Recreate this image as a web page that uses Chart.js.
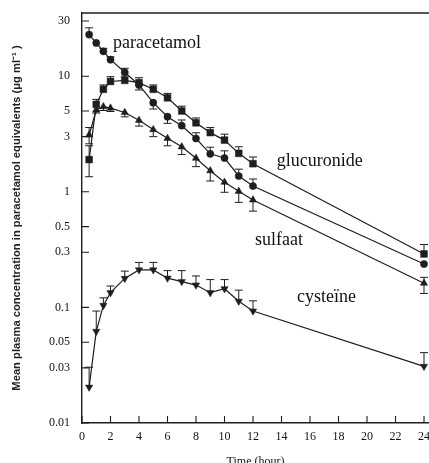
<!DOCTYPE html>
<html>
<head>
<meta charset="utf-8">
<script src="https://cdn.jsdelivr.net/npm/chart.js@4.4.0/dist/chart.umd.min.js"></script>
<style>
html, body { margin: 0; padding: 0; background: #fff; overflow: hidden; }
</style>
</head>
<body>
<canvas id="myCanvas" width="429" height="469"></canvas>
<script>
// time points (hour)
const hours = [0.5, 1, 1.5, 2, 3, 4, 5, 6, 7, 8, 9, 10, 11, 12, 24];

// mean plasma concentrations (ug/ml paracetamol equivalents)
const paracetamol = [22.9, 19.4, 16.4, 13.9, 10.8, 8.4, 5.9, 4.46, 3.73, 2.89, 2.13, 1.96, 1.37, 1.12, 0.237];
const glucuronide = [1.9, 5.7, 7.7, 9.0, 9.2, 8.8, 7.7, 6.5, 5.0, 3.95, 3.25, 2.8, 2.15, 1.75, 0.29];
const sulfaat     = [3.1, 5.1, 5.45, 5.3, 4.85, 4.15, 3.45, 2.9, 2.45, 1.95, 1.52, 1.21, 1.01, 0.85, 0.162];
const cysteine    = [0.0204, 0.062, 0.104, 0.134, 0.178, 0.211, 0.211, 0.179, 0.167, 0.156, 0.134, 0.145, 0.113, 0.093, 0.0309];

// error bars (up / down)
const paracetamolUp   = [3.3, 0, 1.0, 0.8, 0.9, 0, 0, 0, 0.45, 0.35, 0.3, 0.3, 0.2, 0.17, 0];
const paracetamolDown = [0, 0, 0, 0, 0, 0.8, 0.7, 0.55, 0, 0, 0, 0, 0, 0, 0];
const glucuronideUp   = [0.6, 0.6, 0.7, 0.9, 0.8, 0.9, 0.7, 0.6, 0.5, 0.4, 0.35, 0.35, 0.3, 0.25, 0.06];
const glucuronideDown = [0.55, 0, 0, 0, 0, 0, 0, 0, 0, 0, 0, 0, 0, 0, 0];
const sulfaatUp       = [0.5, 0, 0, 0, 0, 0, 0, 0, 0, 0, 0, 0, 0, 0, 0.02];
const sulfaatDown     = [0.5, 0.3, 0.4, 0.35, 0.4, 0.45, 0.45, 0.4, 0.35, 0.3, 0.28, 0.22, 0.2, 0.17, 0.03];
const cysteineUp      = [0.010, 0.031, 0.017, 0.019, 0.028, 0.034, 0.034, 0.029, 0.041, 0.031, 0.04, 0.029, 0.028, 0.021, 0.0097];
const cysteineDown    = [0, 0, 0, 0, 0, 0, 0, 0, 0, 0, 0, 0, 0, 0, 0];

// tick labels
const xTicks = [0, 2, 4, 6, 8, 10, 12, 14, 16, 18, 20, 22, 24];
const yTicks = [0.01, 0.03, 0.05, 0.1, 0.3, 0.5, 1, 3, 5, 10, 30];
const yTickLabels = ['0.01', '0.03', '0.05', '0.1', '0.3', '0.5', '1', '3', '5', '10', '30'];

const errors = [
    [paracetamolUp, paracetamolDown],
    [glucuronideUp, glucuronideDown],
    [sulfaatUp, sulfaatDown],
    [cysteineUp, cysteineDown]
];

const ink = '#1e1e1e';

function series(values, style, radius, rotation) {
    return {
        data: hours.map((h, i) => ({ x: h, y: values[i] })),
        borderColor: ink,
        borderWidth: 1.2,
        backgroundColor: ink,
        pointBackgroundColor: ink,
        pointBorderColor: ink,
        pointBorderWidth: 0.5,
        pointStyle: style,
        pointRadius: radius,
        pointRotation: rotation || 0,
        tension: 0,
        clip: false
    };
}

const errorBars = {
    id: 'errorBars',
    beforeDatasetsDraw(chart) {
        const ctx = chart.ctx;
        const y = chart.scales.y;
        ctx.save();
        ctx.strokeStyle = ink;
        ctx.lineWidth = 1;
        chart.data.datasets.forEach((ds, i) => {
            const meta = chart.getDatasetMeta(i);
            const [up, down] = errors[i];
            meta.data.forEach((pt, j) => {
                const v = ds.data[j].y;
                const segs = [];
                if (up[j] > 0) segs.push(y.getPixelForValue(v + up[j]));
                if (down[j] > 0) segs.push(y.getPixelForValue(v - down[j]));
                segs.forEach(py => {
                    ctx.beginPath();
                    ctx.moveTo(pt.x, pt.y);
                    ctx.lineTo(pt.x, py);
                    ctx.moveTo(pt.x - 4, py);
                    ctx.lineTo(pt.x + 4, py);
                    ctx.stroke();
                });
            });
        });
        ctx.restore();
    }
};

// frame top line + inward ticks
const frame = {
    id: 'frame',
    afterDraw(chart) {
        const ctx = chart.ctx;
        const a = chart.chartArea;
        const xs = chart.scales.x, ys = chart.scales.y;
        ctx.save();
        ctx.strokeStyle = ink;
        ctx.lineWidth = 1.5;
        ctx.beginPath();
        ctx.moveTo(a.left, a.top);
        ctx.lineTo(a.right, a.top);
        ctx.stroke();
        ctx.lineWidth = 1.1;
        ctx.beginPath();
        xTicks.forEach(t => {
            const px = xs.getPixelForValue(t);
            ctx.moveTo(px, a.bottom);
            ctx.lineTo(px, a.bottom - 7);
        });
        yTicks.forEach(t => {
            const py = ys.getPixelForValue(t);
            ctx.moveTo(a.left, py);
            ctx.lineTo(a.left + 7, py);
        });
        ctx.stroke();
        ctx.restore();
    }
};

// curve names
const names = {
    id: 'names',
    afterDraw(chart) {
        const ctx = chart.ctx;
        const xs = chart.scales.x, ys = chart.scales.y;
        const items = [
            ['paracetamol', 2.18, 17.5],
            ['glucuronide', 13.66, 1.68],
            ['sulfaat', 12.14, 0.347],
            ['cysteïne', 15.09, 0.112]
        ];
        ctx.save();
        ctx.fillStyle = '#111';
        ctx.font = '18px "Liberation Serif", serif';
        ctx.textAlign = 'left';
        ctx.textBaseline = 'alphabetic';
        items.forEach(([t, hx, vy]) => {
            ctx.fillText(t, xs.getPixelForValue(hx), ys.getPixelForValue(vy));
        });
        ctx.restore();
    }
};

var c = document.getElementById('myCanvas');
var ctx = c.getContext('2d');

var myChart = new Chart(ctx, {
    type: 'line',
    data: {
        datasets: [
            series(paracetamol, 'circle', 3.6),
            series(glucuronide, 'rect', 4.8),
            series(sulfaat, 'triangle', 4.2),
            series(cysteine, 'triangle', 4.2, 180)
        ]
    },
    options: {
        responsive: false,
        animation: false,
        devicePixelRatio: 1,
        layout: { autoPadding: false, padding: { top: 13, right: 0, left: 0, bottom: 0 } },
        plugins: {
            legend: { display: false },
            tooltip: { enabled: false }
        },
        scales: {
            x: {
                type: 'linear',
                min: 0,
                max: 24.35,
                grid: { display: false, drawTicks: false },
                border: { display: true, color: ink, width: 1.4 },
                afterBuildTicks: s => { s.ticks = xTicks.map(v => ({ value: v })); },
                afterFit: s => { s.height = 46; s.paddingLeft = 0; s.paddingRight = 0; },
                ticks: {
                    padding: 7,
                    color: '#111',
                    font: { family: '"Liberation Serif", serif', size: 12 },
                    maxRotation: 0,
                    callback: v => String(v)
                },
                title: {
                    display: true,
                    text: 'Time (hour)',
                    color: '#111',
                    font: { family: '"Liberation Serif", serif', size: 12 },
                    padding: { top: 0, bottom: 0 }
                }
            },
            y: {
                type: 'logarithmic',
                min: 0.01,
                max: 35.2,
                grid: { display: false, drawTicks: false },
                border: { display: true, color: ink, width: 1.4 },
                afterBuildTicks: s => { s.ticks = yTicks.map(v => ({ value: v })); },
                afterFit: s => { s.width = 82; s.paddingTop = 0; s.paddingBottom = 0; },
                ticks: {
                    padding: 12,
                    color: '#111',
                    font: { family: '"Liberation Serif", serif', size: 12 },
                    callback: v => yTickLabels[yTicks.indexOf(v)]
                },
                title: {
                    display: true,
                    text: 'Mean plasma concentration in paracetamol equivalents (\u03bcg ml\u207b\u00b9 )',
                    color: '#222',
                    font: { family: '"Liberation Sans", Arial, sans-serif', size: 11.2, weight: 'bold' },
                    padding: { top: 10, bottom: 0 }
                }
            }
        }
    },
    plugins: [errorBars, frame, names]
});
</script>
</body>
</html>
